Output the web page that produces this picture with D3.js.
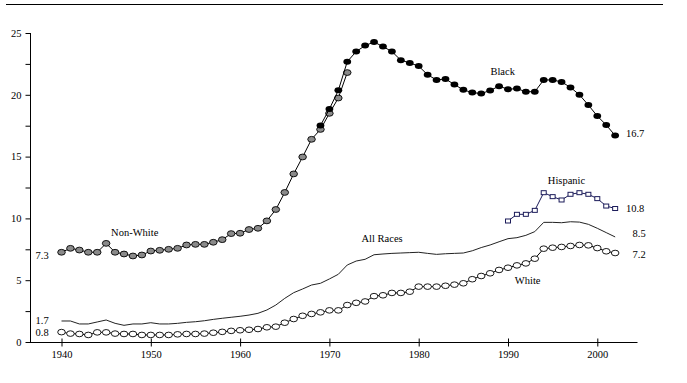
<!DOCTYPE html>
<html><head><meta charset="utf-8">
<script src="https://cdn.jsdelivr.net/npm/d3@7"></script>
<style>body{margin:0;background:#fff}svg{display:block}text{font-family:"Liberation Serif","Times New Roman",serif;font-size:10.5px;fill:#000}</style>
</head><body><svg id="c" width="687" height="383"></svg>
<script>
const yTicks = [0,5,10,15,20,25];
const xTicks = [1940,1950,1960,1970,1980,1990,2000];

const nonWhiteYears = d3.range(1940,1973);
const nonWhite = [7.26,7.58,7.44,7.26,7.26,7.98,7.26,7.12,6.96,7.04,7.36,7.42,7.5,7.58,7.85,7.9,7.9,8.07,8.28,8.77,8.8,9.1,9.2,9.8,10.72,12.1,13.6,14.97,16.4,17.2,18.5,19.74,21.8];

const blackYears = d3.range(1969,2003);
const black = [17.52,18.85,20.36,22.68,23.5,23.98,24.27,23.9,23.5,22.8,22.58,22.32,21.62,21.2,21.28,20.83,20.4,20.18,20.1,20.35,20.7,20.45,20.5,20.25,20.25,21.2,21.2,21.04,20.6,20.0,19.17,18.28,17.56,16.7];

const hispYears = d3.range(1990,2003);
const hispanic = [9.79,10.33,10.33,10.65,12.08,11.76,11.49,11.95,12.08,11.95,11.6,11.0,10.8];

const allYears = d3.range(1940,2003);
const allRaces = [1.7,1.7,1.46,1.46,1.62,1.78,1.51,1.35,1.46,1.46,1.56,1.46,1.46,1.51,1.59,1.64,1.72,1.83,1.92,2.0,2.08,2.18,2.32,2.59,2.99,3.53,3.99,4.29,4.61,4.75,5.1,5.48,6.23,6.55,6.69,7.06,7.12,7.17,7.2,7.23,7.26,7.17,7.09,7.14,7.17,7.2,7.38,7.64,7.85,8.11,8.36,8.44,8.63,8.93,9.68,9.68,9.65,9.73,9.7,9.52,9.2,8.85,8.5];

const whiteYears = d3.range(1940,2003);
const white = [0.8,0.68,0.65,0.57,0.78,0.78,0.68,0.65,0.65,0.57,0.57,0.57,0.57,0.62,0.65,0.65,0.68,0.75,0.82,0.9,0.95,0.99,1.05,1.19,1.24,1.56,1.86,2.12,2.27,2.4,2.56,2.56,2.99,3.17,3.28,3.71,3.78,3.97,3.97,4.07,4.48,4.48,4.48,4.55,4.64,4.75,5.08,5.34,5.56,5.83,6.01,6.2,6.36,6.74,7.55,7.63,7.69,7.77,7.85,7.82,7.6,7.34,7.2];

const labels = [
  {t:"Non-White", year:1948.2, v:8.9, a:"middle"},
  {t:"7.3", year:1937.1, v:7.0, a:"start"},
  {t:"1.7", year:1937.1, v:1.72, a:"start"},
  {t:"0.8", year:1937.1, v:0.75, a:"start"},
  {t:"All Races", year:1975.9, v:8.35, a:"middle"},
  {t:"Black", year:1989.4, v:21.87, a:"middle"},
  {t:"16.7", year:2003.2, v:16.88, a:"start"},
  {t:"Hispanic", year:1996.55, v:13.1, a:"middle"},
  {t:"10.8", year:2003.2, v:10.8, a:"start"},
  {t:"8.5", year:2003.95, v:8.79, a:"start"},
  {t:"7.2", year:2003.95, v:7.12, a:"start"},
  {t:"White", year:1992.2, v:4.99, a:"middle"}
];

const svg = d3.select("#c");
const x = d3.scaleLinear().domain([1940,2000]).range([61.5,597.3]);
const y = d3.scaleLinear().domain([0,25]).range([342,33]);

// top rule
svg.append("line").attr("x1",6).attr("x2",663).attr("y1",4.5).attr("y2",4.5).attr("stroke","#000").attr("stroke-width",1.2);

// y axis
const yAxis = d3.axisLeft(y).tickValues(d3.range(0,25.01,2.5)).tickSize(5).tickPadding(4)
  .tickFormat(d => yTicks.includes(d) ? d : "");
const gy = svg.append("g").attr("transform","translate(30.5,0)").call(yAxis);
gy.select(".domain").remove();
gy.append("line").attr("x1",0).attr("x2",0).attr("y1",y(25)).attr("y2",y(0)).attr("stroke","#000");
gy.selectAll("text").style("font-family","Liberation Serif").style("font-size","10.5px").attr("fill","#000");

// x axis
const xAxis = d3.axisBottom(x).tickValues(xTicks).tickSize(4).tickPadding(4).tickFormat(d3.format("d"));
const gx = svg.append("g").attr("transform",`translate(0,${y(0)+0.5})`).call(xAxis);
gx.select(".domain").remove();
gx.append("line").attr("x1",30).attr("x2",637.5).attr("y1",0).attr("y2",0).attr("stroke","#000");
gx.selectAll(".tick line").attr("y1",-4);
gx.selectAll("text").style("font-family","Liberation Serif").style("font-size","10.5px").attr("fill","#000");

const line = d3.line().x(d=>x(d[0])).y(d=>y(d[1]));
const zip = (ys,vs)=>ys.map((yr,i)=>[yr,vs[i]]);

// All races
svg.append("path").datum(zip(allYears,allRaces)).attr("d",line).attr("fill","none").attr("stroke","#222").attr("stroke-width",1);

// White
const wd = zip(whiteYears,white);
svg.append("path").datum(wd).attr("d",line).attr("fill","none").attr("stroke","#000").attr("stroke-width",1);
svg.selectAll(".w").data(wd).enter().append("ellipse").attr("cx",d=>x(d[0])).attr("cy",d=>y(d[1]))
  .attr("rx",3.8).attr("ry",2.8).attr("fill","#fff").attr("stroke","#000").attr("stroke-width",0.9);

// Non-white
const nd = zip(nonWhiteYears,nonWhite);
svg.append("path").datum(nd).attr("d",line).attr("fill","none").attr("stroke","#000").attr("stroke-width",1);
svg.selectAll(".n").data(nd).enter().append("ellipse").attr("cx",d=>x(d[0])).attr("cy",d=>y(d[1]))
  .attr("rx",3.8).attr("ry",2.9).attr("fill","#8a8a8a").attr("stroke","#000").attr("stroke-width",0.9);

// Black
const bd = zip(blackYears,black);
svg.append("path").datum(bd).attr("d",line).attr("fill","none").attr("stroke","#000").attr("stroke-width",1);
svg.selectAll(".b").data(bd).enter().append("ellipse").attr("cx",d=>x(d[0])).attr("cy",d=>y(d[1]))
  .attr("rx",3.9).attr("ry",3.0).attr("fill","#000");

// Hispanic
const hd = zip(hispYears,hispanic);
svg.append("path").datum(hd).attr("d",line).attr("fill","none").attr("stroke","#1c1c5a").attr("stroke-width",1);
svg.selectAll(".h").data(hd).enter().append("rect").attr("x",d=>x(d[0])-2.5).attr("y",d=>y(d[1])-2)
  .attr("width",5).attr("height",4).attr("fill","#fff").attr("stroke","#1c1c5a").attr("stroke-width",1);

// labels
svg.selectAll(".lab").data(labels).enter().append("text")
  .attr("x",d=>x(d.year)).attr("y",d=>y(d.v)).attr("dy","0.35em").attr("text-anchor",d=>d.a).text(d=>d.t);
</script></body></html>
